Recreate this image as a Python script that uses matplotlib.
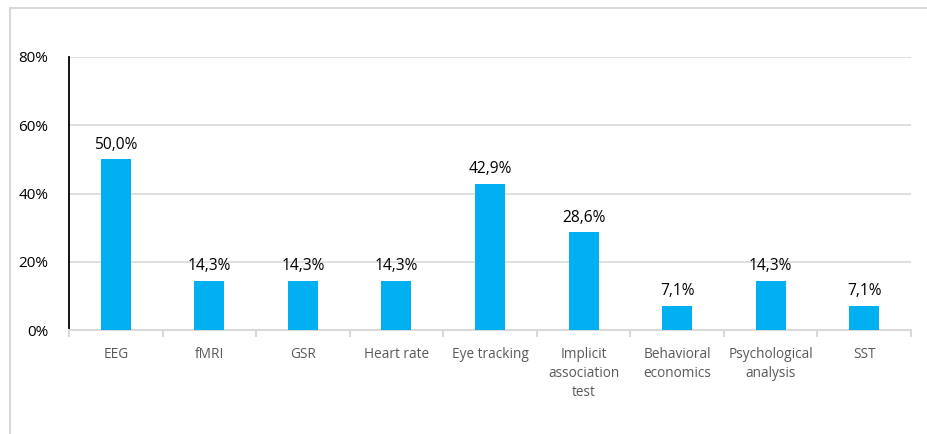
import matplotlib
matplotlib.use("Agg")
import matplotlib.pyplot as plt
from matplotlib.lines import Line2D

# datos
categorias = ["EEG", "fMRI", "GSR", "Heart rate", "Eye tracking",
              "Implicit\nassociation\ntest", "Behavioral\neconomics",
              "Psychological\nanalysis", "SST"]
valores = [50.0, 14.3, 14.3, 14.3, 42.9, 28.6, 7.1, 14.3, 7.1]
etiquetas = ["50,0%", "14,3%", "14,3%", "14,3%", "42,9%",
             "28,6%", "7,1%", "14,3%", "7,1%"]
yticks = [0, 20, 40, 60, 80]
ytick_labels = ["0%", "20%", "40%", "60%", "80%"]

plt.rcParams["font.family"] = ["Open Sans", "DejaVu Sans"]

W, H = 928, 434
fig = plt.figure(figsize=(W / 100, H / 100), dpi=100)
ax = fig.add_axes([69 / W, 1 - 330 / H, (911 - 69) / W, (330 - 57) / H])

x = list(range(len(categorias)))
ax.bar(x, valores, width=0.32, color="#00b0f0", zorder=3)

for xi, v, lab in zip(x, valores, etiquetas):
    ax.text(xi, v + 2.0, lab, ha="center", va="bottom", fontsize=11.2,
            color="#000000")

ax.set_xlim(-0.5, len(categorias) - 0.5)
ax.set_ylim(0, 80)
ax.set_yticks(yticks)
ax.set_yticklabels(ytick_labels, fontsize=11, color="#000000")
ax.tick_params(axis="y", length=0, pad=15)

ax.set_xticks(x)
ax.set_xticklabels(categorias, fontsize=9.8, color="#595959", linespacing=1.38)
ax.tick_params(axis="x", length=0, pad=12)

# marcas entre categorias
ax.set_xticks([i - 0.5 for i in range(len(categorias) + 1)], minor=True)
ax.tick_params(axis="x", which="minor", length=5, color="#d9d9d9", width=1.5)

ax.grid(axis="y", color="#d9d9d9", linewidth=1.2, zorder=0)
for s in ["top", "right"]:
    ax.spines[s].set_visible(False)
ax.spines["left"].set_color("black")
ax.spines["left"].set_linewidth(1.3)
ax.spines["bottom"].set_color("#d9d9d9")
ax.spines["bottom"].set_linewidth(1.5)

# borde del grafico
fig.add_artist(Line2D([10 / W, 1], [1 - 7.5 / H, 1 - 7.5 / H], color="#d9d9d9", linewidth=1.5))
fig.add_artist(Line2D([10 / W, 10 / W], [0, 1 - 7.5 / H], color="#d9d9d9", linewidth=1.5))

plt.savefig("out.png", dpi=100)
